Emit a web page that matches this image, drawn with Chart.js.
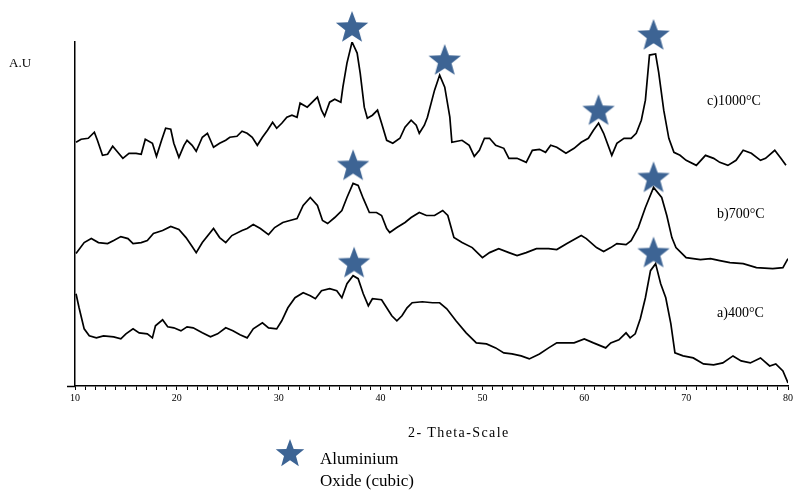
<!DOCTYPE html>
<html>
<head>
<meta charset="utf-8">
<script src="https://cdn.jsdelivr.net/npm/chart.js@4.4.1/dist/chart.umd.min.js"></script>
<style>
  html, body { margin: 0; background: #fff; }
</style>
</head>
<body>
<canvas id="xrd" width="795" height="491"></canvas>
<script>
// XRD patterns at three calcination temperatures (intensity in arbitrary units)
const tickLabels = [10, 20, 30, 40, 50, 60, 70, 80];

const thetaC = [10.1, 10.6, 11.3, 11.9, 12.2, 12.7, 13.2, 13.7, 14.2, 14.7, 15.3, 16.0, 16.5, 16.9, 17.6, 18.0, 18.5, 18.9, 19.4, 19.7,
  20.2, 20.7, 21.0, 21.5, 21.9, 22.5, 23.0, 23.6, 24.2, 24.8, 25.2, 25.9, 26.4, 26.9, 27.4, 27.9, 28.4, 28.9, 29.4, 29.8,
  30.3, 30.8, 31.3, 31.8, 32.1, 32.8, 33.8, 34.2, 34.5, 35.0, 35.5, 36.1, 36.3, 36.7, 37.2, 37.7, 38.0, 38.4, 38.7, 39.2,
  39.7, 40.1, 40.6, 41.2, 41.9, 42.4, 43.0, 43.5, 43.8, 44.3, 44.6, 45.3, 45.8, 46.3, 46.8, 47.0, 48.0, 48.7, 49.2, 49.7,
  50.2, 50.7, 51.3, 52.1, 52.6, 53.4, 54.3, 54.9, 55.6, 56.2, 56.7, 57.3, 58.2, 59.0, 59.7, 60.4, 60.9, 61.4, 61.9, 62.7,
  63.2, 63.9, 64.6, 65.1, 65.6, 66.0, 66.4, 67.0, 67.3, 67.8, 68.3, 68.8, 69.4, 70.0, 71.0, 71.9, 72.7, 73.3, 74.1, 74.9,
  75.6, 76.4, 77.3, 77.8, 78.7, 79.3, 79.8];
const intC = [243, 246, 247, 253, 245, 230, 231, 239, 233, 227, 232, 232, 231, 246, 242, 229, 245, 257, 256, 242,
  228, 240, 245, 240, 234, 248, 252, 238, 242, 245, 248, 249, 254, 252, 248, 240, 248, 255, 263, 257,
  262, 268, 270, 268, 282, 278, 288, 275, 269, 283, 286, 283, 298, 322, 343, 332, 312, 278, 267, 270,
  275, 262, 245, 242, 247, 258, 265, 260, 252, 260, 268, 295, 310, 298, 268, 243, 245, 240, 229, 235,
  247, 247, 240, 237, 227, 227, 223, 235, 236, 233, 240, 238, 232, 237, 243, 247, 255, 262, 252, 230,
  242, 247, 247, 252, 265, 285, 330, 331, 313, 275, 247, 233, 230, 225, 220, 230, 227, 223, 220, 225,
  235, 232, 225, 227, 235, 227, 220];

const thetaB = [10.1, 10.9, 11.6, 12.3, 13.2, 13.8, 14.5, 15.2, 15.7, 16.5, 17.1, 17.7, 18.6, 19.4, 20.2, 20.9, 21.5, 21.9, 22.5, 23.6,
  24.2, 24.8, 25.4, 26.4, 26.9, 27.5, 28.2, 29.0, 29.6, 30.4, 31.1, 31.8, 32.4, 33.1, 33.8, 34.3, 34.8, 35.5, 36.2, 36.7,
  37.3, 37.8, 38.3, 38.9, 39.6, 40.1, 40.6, 40.9, 41.6, 42.4, 43.0, 43.8, 44.5, 45.3, 46.1, 46.6, 47.2, 48.0, 49.0, 50.0,
  50.7, 51.6, 52.6, 53.4, 54.3, 55.3, 56.5, 57.3, 58.3, 59.7, 60.2, 61.2, 61.9, 62.6, 63.2, 64.1, 64.6, 65.3, 66.0, 66.8,
  67.6, 68.1, 68.6, 69.0, 70.0, 71.4, 72.4, 73.3, 74.3, 75.6, 76.9, 78.5, 79.5, 80.0];
const intB = [132, 143, 147, 143, 142, 145, 149, 147, 142, 143, 145, 152, 155, 159, 156, 148, 139, 133, 143, 157,
  148, 143, 150, 155, 157, 161, 157, 151, 158, 163, 165, 167, 180, 188, 180, 165, 162, 168, 175, 188,
  202, 200, 187, 173, 173, 170, 157, 153, 158, 163, 168, 173, 170, 170, 175, 170, 148, 143, 138, 128,
  133, 137, 133, 130, 133, 137, 137, 136, 142, 150, 147, 138, 134, 138, 142, 141, 145, 158, 178, 198,
  188, 170, 148, 138, 128, 126, 127, 125, 123, 122, 118, 117, 118, 127];

const thetaA = [10.1, 10.4, 10.9, 11.4, 12.1, 12.8, 13.8, 14.5, 15.0, 15.7, 16.3, 17.1, 17.6, 17.9, 18.6, 19.1, 19.7, 20.4, 21.0, 21.6,
  22.5, 23.3, 24.0, 24.8, 25.5, 26.2, 26.9, 27.5, 28.4, 29.0, 29.8, 30.3, 30.9, 31.6, 32.4, 33.1, 33.6, 34.2, 35.0, 35.7,
  36.2, 36.7, 37.3, 37.8, 38.3, 38.8, 39.2, 40.1, 40.6, 41.1, 41.6, 42.1, 42.6, 43.1, 44.1, 45.1, 45.8, 46.5, 47.4, 48.4,
  49.4, 50.4, 51.3, 52.1, 52.9, 53.8, 54.6, 55.6, 56.5, 57.3, 58.0, 59.0, 60.0, 60.9, 62.1, 62.6, 63.4, 64.1, 64.5, 65.0,
  65.5, 66.0, 66.5, 67.0, 67.5, 68.0, 68.5, 68.9, 69.7, 70.7, 71.7, 72.7, 73.6, 74.6, 75.4, 76.3, 77.3, 78.2, 78.8, 79.5,
  80.0];
const intA = [92, 78, 57, 50, 48, 50, 49, 47, 52, 57, 53, 52, 48, 60, 66, 59, 58, 55, 59, 58,
  53, 49, 52, 58, 55, 51, 48, 57, 63, 58, 57, 65, 78, 88, 93, 90, 87, 95, 97, 95,
  88, 102, 110, 107, 92, 80, 87, 86, 78, 70, 65, 70, 78, 83, 84, 83, 83, 77, 65, 53,
  43, 42, 38, 33, 32, 30, 27, 32, 38, 43, 43, 43, 47, 43, 38, 43, 46, 53, 48, 52,
  67, 88, 115, 122, 102, 88, 62, 33, 30, 28, 22, 21, 23, 30, 25, 23, 28, 20, 22, 15,
  3];

// Aluminium oxide (cubic) peak markers
const starTheta = [37.2, 46.3, 61.4, 66.8, 37.3, 66.8, 37.4, 66.8];
const starInt = [358, 325, 275, 350, 220, 208, 123, 133];

const seriesNames = ['c)1000°C', 'b)700°C', 'a)400°C'];
const xTitle = '2- Theta-Scale';
const legendLines = ['Aluminium', 'Oxide (cubic)'];

const STAR = '#3d6494';
const SERIF = '"Liberation Serif", "DejaVu Serif", serif';

function makeStar(size, color) {
  const c = document.createElement('canvas');
  c.width = size; c.height = size;
  const g = c.getContext('2d');
  const R = size / 2, r = R * 0.42;
  g.beginPath();
  for (let i = 0; i < 10; i++) {
    const a = -Math.PI / 2 + i * Math.PI / 5;
    const rad = i % 2 ? r : R;
    g.lineTo(R + rad * Math.cos(a), R + 1 + rad * Math.sin(a));
  }
  g.closePath();
  g.fillStyle = color;
  g.fill();
  return c;
}
const bigStar = makeStar(34, STAR);
const smallStar = makeStar(30, STAR);

const pts = (xs, ys) => xs.map((x, i) => ({ x, y: ys[i] }));

const line = (label, xs, ys) => ({
  label, data: pts(xs, ys), borderColor: '#000', borderWidth: 1.7,
  pointRadius: 0, tension: 0, fill: false
});

// free text: curve labels, y label, x title, legend
const notes = {
  id: 'notes',
  afterDraw(chart) {
    const ctx = chart.ctx;
    const a = chart.chartArea;
    ctx.save();
    // axis stub left of the origin
    ctx.strokeStyle = '#000';
    ctx.lineWidth = 1.5;
    ctx.beginPath();
    ctx.moveTo(a.left - 8, a.bottom + 0.5);
    ctx.lineTo(a.left, a.bottom + 0.5);
    ctx.stroke();
    ctx.fillStyle = '#000';
    ctx.textBaseline = 'middle';
    ctx.font = '13px ' + SERIF;
    ctx.fillText('A.U', 9, 64);
    ctx.font = '14px ' + SERIF;
    ctx.fillText(seriesNames[0], 707, 101);
    ctx.fillText(seriesNames[1], 717, 214);
    ctx.fillText(seriesNames[2], 717, 313);
    ctx.letterSpacing = '1.4px';
    ctx.fillText(xTitle, 408, 433);
    ctx.letterSpacing = '0px';
    ctx.drawImage(smallStar, 275, 438);
    ctx.font = '17px ' + SERIF;
    ctx.fillText(legendLines[0], 320, 460);
    ctx.fillText(legendLines[1], 320, 482);
    ctx.restore();
  }
};

new Chart(document.getElementById('xrd'), {
  type: 'line',
  data: {
    datasets: [
      line(seriesNames[0], thetaC, intC),
      line(seriesNames[1], thetaB, intB),
      line(seriesNames[2], thetaA, intA),
      {
        label: 'Aluminium Oxide (cubic)', data: pts(starTheta, starInt),
        showLine: false, pointStyle: bigStar, pointRadius: 20, pointBorderWidth: 0, clip: false
      }
    ]
  },
  options: {
    responsive: false,
    animation: false,
    devicePixelRatio: 1,
    events: [],
    layout: { autoPadding: false, padding: { top: 42, right: 3, bottom: 85, left: 67 } },
    plugins: { legend: { display: false }, tooltip: { enabled: false } },
    scales: {
      x: {
        type: 'linear', min: 10, max: 80,
        ticks: {
          stepSize: 1, autoSkip: false, maxRotation: 0, padding: 2, color: '#000',
          font: { family: SERIF, size: 10 },
          callback: v => tickLabels.includes(v) ? v : ''
        },
        grid: { drawOnChartArea: false, tickLength: 4, color: '#000' },
        border: { color: '#000', width: 1.5 }
      },
      y: {
        min: 0, max: 343,
        ticks: { display: false },
        grid: { display: false },
        border: { color: '#000', width: 1.5 }
      }
    }
  },
  plugins: [notes]
});
</script>
</body>
</html>
